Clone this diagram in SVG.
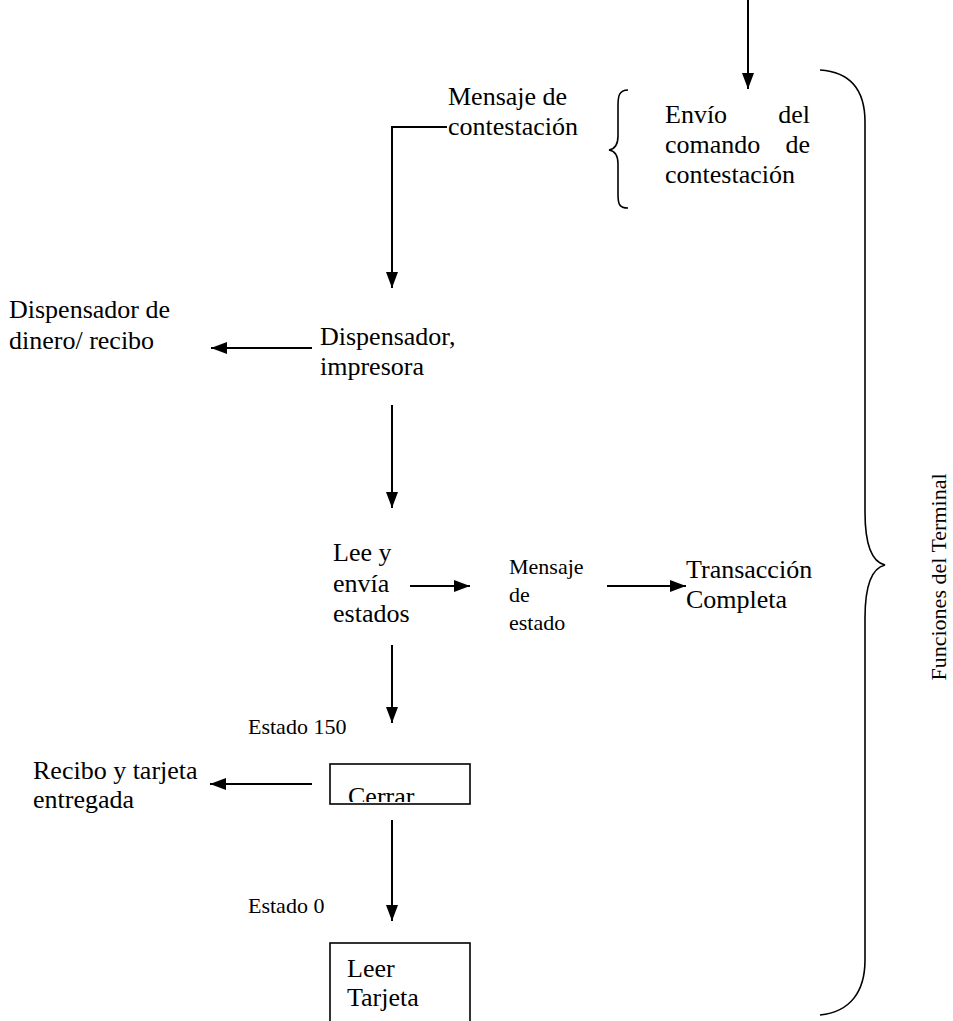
<svg xmlns="http://www.w3.org/2000/svg" width="953" height="1021" viewBox="0 0 953 1021">
<style>
.t{font-family:"Liberation Serif","Times New Roman",serif;font-size:26px;fill:#000}
.s{font-family:"Liberation Serif","Times New Roman",serif;font-size:22px;fill:#000}
.ln{stroke:#000;stroke-width:1.6;fill:none}
.arr{stroke:#000;stroke-width:2;fill:none;marker-end:url(#ah)}
.box{fill:#fff;stroke:#000;stroke-width:1.6}
</style>
<defs>
<marker id="ah" viewBox="0 0 16 12" refX="16" refY="6" markerWidth="16" markerHeight="12" markerUnits="userSpaceOnUse" orient="auto">
<path d="M0,0 L16,6 L0,12 z" fill="#000"/>
</marker>
<clipPath id="cc"><rect x="331" y="765" width="138" height="37"/></clipPath>
</defs>
<rect width="953" height="1021" fill="#fff"/>
<g id="connectors">
<line class="arr" x1="748" y1="0" x2="748" y2="89"/>
<polyline class="arr" points="447,127 392,127 392,288"/>
<line class="arr" x1="312" y1="348" x2="211" y2="348"/>
<line class="arr" x1="392" y1="405" x2="392" y2="508"/>
<line class="arr" x1="410" y1="586" x2="470" y2="586"/>
<line class="arr" x1="607" y1="586" x2="686" y2="586"/>
<line class="arr" x1="392" y1="645" x2="392" y2="723"/>
<line class="arr" x1="312" y1="784" x2="210" y2="784"/>
<line class="arr" x1="392" y1="820" x2="392" y2="921"/>
</g>
<g id="envio">
<path class="ln" d="M628,90 C619,90 618,96 618,106 L618,136 C618,145 615,149 609,150 C615,151 618,155 618,164 L618,194 C618,204 619,208 628,208"/>
<text class="t" x="665" y="123">Envío</text>
<text class="t" x="810" y="123" text-anchor="end">del</text>
<text class="t" x="665" y="153">comando</text>
<text class="t" x="810" y="153" text-anchor="end">de</text>
<text class="t" x="665" y="183">contestación</text>
</g>
<g id="mensaje-contestacion">
<text class="t" x="448" y="105">Mensaje de</text>
<text class="t" x="448" y="135">contestación</text>
</g>
<g id="dispensador-dinero">
<text class="t" x="9" y="318">Dispensador de</text>
<text class="t" x="9" y="349">dinero/ recibo</text>
</g>
<g id="dispensador-impresora">
<text class="t" x="320" y="345">Dispensador,</text>
<text class="t" x="320" y="375">impresora</text>
</g>
<g id="lee-envia">
<text class="t" x="333" y="561">Lee y</text>
<text class="t" x="333" y="592">envía</text>
<text class="t" x="333" y="622">estados</text>
</g>
<g id="mensaje-estado">
<text class="s" x="509" y="574">Mensaje</text>
<text class="s" x="509" y="602">de</text>
<text class="s" x="509" y="630">estado</text>
</g>
<g id="transaccion">
<text class="t" x="686" y="578">Transacción</text>
<text class="t" x="686" y="608">Completa</text>
</g>
<g id="estado150">
<text class="s" x="248" y="734">Estado 150</text>
</g>
<g id="recibo">
<text class="t" x="33" y="779">Recibo y tarjeta</text>
<text class="t" x="33" y="808">entregada</text>
</g>
<g id="cerrar">
<rect class="box" x="330" y="764" width="140" height="40"/>
<text class="t" x="348" y="805" clip-path="url(#cc)">Cerrar</text>
</g>
<g id="estado0">
<text class="s" x="248" y="913">Estado 0</text>
</g>
<g id="leer-tarjeta">
<rect class="box" x="330" y="943" width="140" height="90"/>
<text class="t" x="347" y="977">Leer</text>
<text class="t" x="347" y="1006">Tarjeta</text>
</g>
<g id="funciones">
<path class="ln" d="M820,70 C850,72 865,90 865,122 L865,512 C865,545 872,562 885,565 C872,568 865,585 865,618 L865,960 C865,992 850,1012 820,1015"/>
<text class="s" x="0" y="0" text-anchor="middle" transform="translate(946,577) rotate(-90)">Funciones del Terminal</text>
</g>
</svg>
